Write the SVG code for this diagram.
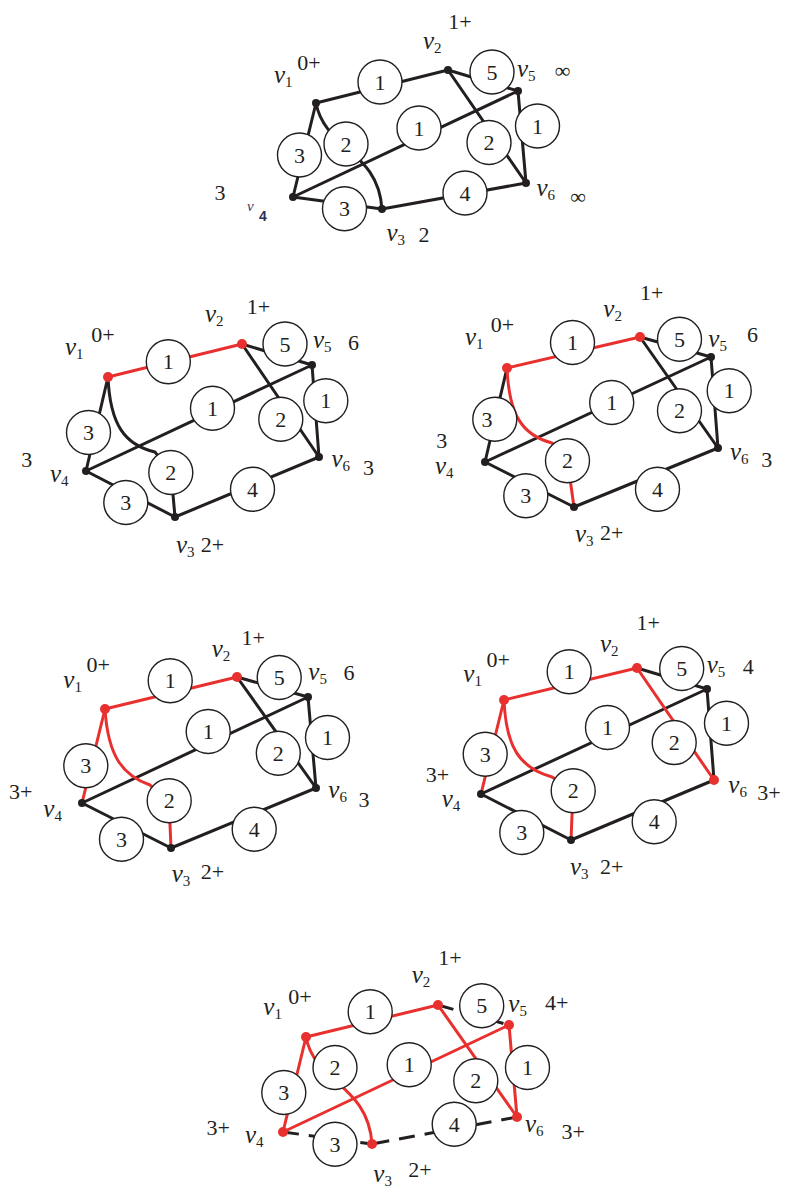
<svg xmlns="http://www.w3.org/2000/svg" width="786" height="1189" viewBox="0 0 786 1189">
<style>
.k{stroke:#231f20;stroke-width:3;fill:none;stroke-linecap:round}
.r{stroke:#e8312f;stroke-width:3;fill:none;stroke-linecap:round}
.d{stroke-dasharray:16 10;stroke-linecap:butt}
.w circle{fill:#fff;stroke:#231f20;stroke-width:1.4}
.w text{font-family:'Liberation Serif',serif;font-size:22px;text-anchor:middle;fill:#231f20}
.dk{fill:#231f20}
.dr{fill:#e8312f}
.v{font-family:'Liberation Serif',serif;font-style:italic;font-size:25px;fill:#231f20}
.v tspan{font-style:normal;font-size:15px}
.l{font-family:'Liberation Serif',serif;font-size:22px;text-anchor:middle;fill:#231f20}
</style>
<rect width="786" height="1189" fill="#fff"/>

<!-- ============ Diagram 1 ============ -->
<g id="d1">
<g id="d1-connectors">
<path class="k" d="M316,103L448,70"/>
<path class="k" d="M448,70L518,91"/>
<path class="k" d="M448,70L526,183"/>
<path class="k" d="M518,91L526,183"/>
<path class="k" d="M518,91L293,197"/>
<path class="k" d="M526,183L382,209"/>
<path class="k" d="M293,197L382,209"/>
<path class="k" d="M316,103L293,197"/>
<path class="k" d="M316,103C325,150 378,150 382,209"/>
</g>
<g id="d1-w1a" class="w"><circle cx="380" cy="82" r="22"/><text x="380" y="89.5">1</text></g>
<g id="d1-w5" class="w"><circle cx="492" cy="72" r="22"/><text x="492" y="79.5">5</text></g>
<g id="d1-w1b" class="w"><circle cx="419" cy="128" r="22"/><text x="419" y="135.5">1</text></g>
<g id="d1-w1c" class="w"><circle cx="537.5" cy="126" r="22"/><text x="537.5" y="133.5">1</text></g>
<g id="d1-w2a" class="w"><circle cx="489" cy="142.5" r="22"/><text x="489" y="150">2</text></g>
<g id="d1-w3a" class="w"><circle cx="299.5" cy="155" r="22"/><text x="299.5" y="162.5">3</text></g>
<g id="d1-w2b" class="w"><circle cx="346" cy="144" r="22"/><text x="346" y="151.5">2</text></g>
<g id="d1-w3b" class="w"><circle cx="344.5" cy="208.7" r="22"/><text x="344.5" y="216.2">3</text></g>
<g id="d1-w4" class="w"><circle cx="465" cy="193" r="22"/><text x="465" y="200.5">4</text></g>
<g id="d1-v1"><circle class="dk" cx="316" cy="103" r="4"/><text class="v" x="274" y="83">v<tspan dy="4">1</tspan></text><text class="l" x="309" y="70">0+</text></g>
<g id="d1-v2"><circle class="dk" cx="448" cy="70" r="4"/><text class="v" x="423" y="49">v<tspan dy="4">2</tspan></text><text class="l" x="460" y="29">1+</text></g>
<g id="d1-v5"><circle class="dk" cx="518" cy="91" r="4"/><text class="v" x="517" y="77">v<tspan dy="4">5</tspan></text><text class="l" x="562.5" y="78">∞</text></g>
<g id="d1-v6"><circle class="dk" cx="526" cy="183" r="4"/><text class="v" x="536.5" y="196">v<tspan dy="4">6</tspan></text><text class="l" x="578" y="204">∞</text></g>
<g id="d1-v3"><circle class="dk" cx="382" cy="209" r="4"/><text class="v" x="386.5" y="241">v<tspan dy="4">3</tspan></text><text class="l" x="424" y="241.5">2</text></g>
<g id="d1-v4"><circle class="dk" cx="293" cy="197" r="4"/><text class="l" x="220" y="200">3</text><text x="247" y="211" font-family="'Liberation Serif',serif" font-style="italic" font-size="15" fill="#3a3566">v</text><text x="259" y="221" font-family="'Liberation Sans',sans-serif" font-weight="bold" font-size="14" fill="#2a2f55">4</text></g>
</g>

<!-- ============ Diagram 2 ============ -->
<g id="d2">
<g id="d2-connectors">
<path class="k" d="M242,344L312,365"/>
<path class="k" d="M242,344L319,457"/>
<path class="k" d="M312,365L319,457"/>
<path class="k" d="M312,365L86,471"/>
<path class="k" d="M319,457L175,517"/>
<path class="k" d="M86,471L175,517"/>
<path class="k" d="M108,377L86,471"/>
<path class="k" d="M108,377C110,425 125,445 155,452L171,472L175,517"/>
<path class="r" d="M108,377L242,344"/>
</g>
<g id="d2-w1a" class="w"><circle cx="168.3" cy="361.7" r="22"/><text x="168.3" y="369.2">1</text></g>
<g id="d2-w5" class="w"><circle cx="285" cy="344" r="22"/><text x="285" y="351.5">5</text></g>
<g id="d2-w1b" class="w"><circle cx="212.5" cy="408.3" r="22"/><text x="212.5" y="415.8">1</text></g>
<g id="d2-w1c" class="w"><circle cx="325.8" cy="400.8" r="22"/><text x="325.8" y="408.3">1</text></g>
<g id="d2-w2a" class="w"><circle cx="280.8" cy="419.2" r="22"/><text x="280.8" y="426.7">2</text></g>
<g id="d2-w3a" class="w"><circle cx="88.5" cy="432.5" r="22"/><text x="88.5" y="440">3</text></g>
<g id="d2-w2b" class="w"><circle cx="170.8" cy="472.5" r="22"/><text x="170.8" y="480">2</text></g>
<g id="d2-w3b" class="w"><circle cx="125.8" cy="502.5" r="22"/><text x="125.8" y="510">3</text></g>
<g id="d2-w4" class="w"><circle cx="252.5" cy="489.2" r="22"/><text x="252.5" y="496.7">4</text></g>
<g id="d2-v1"><circle class="dr" cx="108" cy="377" r="5"/><text class="v" x="65" y="355">v<tspan dy="4">1</tspan></text><text class="l" x="103" y="342">0+</text></g>
<g id="d2-v2"><circle class="dr" cx="242" cy="344" r="5"/><text class="v" x="205" y="321.5">v<tspan dy="4">2</tspan></text><text class="l" x="258.5" y="313.5">1+</text></g>
<g id="d2-v5"><circle class="dk" cx="312" cy="365" r="4"/><text class="v" x="313" y="348">v<tspan dy="4">5</tspan></text><text class="l" x="353.5" y="350">6</text></g>
<g id="d2-v6"><circle class="dk" cx="319" cy="457" r="4"/><text class="v" x="331.5" y="466.5">v<tspan dy="4">6</tspan></text><text class="l" x="368.5" y="475">3</text></g>
<g id="d2-v3"><circle class="dk" cx="175" cy="517" r="4"/><text class="v" x="176" y="553">v<tspan dy="4">3</tspan></text><text class="l" x="212.5" y="552">2+</text></g>
<g id="d2-v4"><circle class="dk" cx="86" cy="471" r="4"/><text class="v" x="50" y="481.5">v<tspan dy="4">4</tspan></text><text class="l" x="26.7" y="467">3</text></g>
</g>

<!-- ============ Diagram 3 ============ -->
<g id="d3">
<g id="d3-connectors">
<path class="k" d="M640,337L711,357"/>
<path class="k" d="M640,337L718,448"/>
<path class="k" d="M711,357L718,448"/>
<path class="k" d="M711,357L485,462"/>
<path class="k" d="M718,448L574,507"/>
<path class="k" d="M485,462L574,507"/>
<path class="k" d="M507,368L485,462"/>
<path class="r" d="M507,368C509,415 522,435 552,443L567.5,461L574,507"/>
<path class="r" d="M507,368L640,337"/>
</g>
<g id="d3-w1a" class="w"><circle cx="572.5" cy="342.5" r="22"/><text x="572.5" y="350">1</text></g>
<g id="d3-w5" class="w"><circle cx="679.5" cy="339.2" r="22"/><text x="679.5" y="346.7">5</text></g>
<g id="d3-w1b" class="w"><circle cx="611.7" cy="402.5" r="22"/><text x="611.7" y="410">1</text></g>
<g id="d3-w1c" class="w"><circle cx="729.2" cy="390.8" r="22"/><text x="729.2" y="398.3">1</text></g>
<g id="d3-w2a" class="w"><circle cx="679.5" cy="410.8" r="22"/><text x="679.5" y="418.3">2</text></g>
<g id="d3-w3a" class="w"><circle cx="494.8" cy="419.2" r="22"/><text x="487" y="426.7">3</text></g>
<g id="d3-w2b" class="w"><circle cx="567.5" cy="460.8" r="22"/><text x="567.5" y="468.3">2</text></g>
<g id="d3-w3b" class="w"><circle cx="525.8" cy="495.8" r="22"/><text x="525.8" y="503.3">3</text></g>
<g id="d3-w4" class="w"><circle cx="657.5" cy="489.2" r="22"/><text x="657.5" y="496.7">4</text></g>
<g id="d3-v1"><circle class="dr" cx="507" cy="368" r="5"/><text class="v" x="465" y="345">v<tspan dy="4">1</tspan></text><text class="l" x="502.5" y="332">0+</text></g>
<g id="d3-v2"><circle class="dr" cx="640" cy="337" r="5"/><text class="v" x="603.3" y="316.5">v<tspan dy="4">2</tspan></text><text class="l" x="651.7" y="300">1+</text></g>
<g id="d3-v5"><circle class="dk" cx="711" cy="357" r="4"/><text class="v" x="708.3" y="346.5">v<tspan dy="4">5</tspan></text><text class="l" x="752.5" y="342">6</text></g>
<g id="d3-v6"><circle class="dk" cx="718" cy="448" r="4"/><text class="v" x="730" y="460">v<tspan dy="4">6</tspan></text><text class="l" x="766.7" y="467">3</text></g>
<g id="d3-v3"><circle class="dk" cx="574" cy="507" r="4"/><text class="v" x="575" y="541.5">v<tspan dy="4">3</tspan></text><text class="l" x="611.7" y="540">2+</text></g>
<g id="d3-v4"><circle class="dk" cx="485" cy="462" r="4"/><text class="v" x="435" y="474">v<tspan dy="4">4</tspan></text><text class="l" x="441.7" y="448">3</text></g>
</g>

<!-- ============ Diagram 4 ============ -->
<g id="d4">
<g id="d4-connectors">
<path class="k" d="M237,677L308,697"/>
<path class="k" d="M237,677L316,788"/>
<path class="k" d="M308,697L316,788"/>
<path class="k" d="M308,697L82,803"/>
<path class="k" d="M316,788L171,848"/>
<path class="k" d="M82,803L171,848"/>
<path class="r" d="M105,709L82,803"/>
<path class="r" d="M105,709C108,758 124,776 150,785L169,801L171,848"/>
<path class="r" d="M105,709L237,677"/>
</g>
<g id="d4-w1a" class="w"><circle cx="170.2" cy="680.8" r="22"/><text x="170.2" y="688.3">1</text></g>
<g id="d4-w5" class="w"><circle cx="279.2" cy="677.5" r="22"/><text x="279.2" y="685">5</text></g>
<g id="d4-w1b" class="w"><circle cx="208.2" cy="731.5" r="22"/><text x="208.2" y="739">1</text></g>
<g id="d4-w1c" class="w"><circle cx="327.5" cy="737.5" r="22"/><text x="327.5" y="745">1</text></g>
<g id="d4-w2a" class="w"><circle cx="278.3" cy="753.2" r="22"/><text x="278.3" y="760.7">2</text></g>
<g id="d4-w3a" class="w"><circle cx="85.8" cy="765.8" r="22"/><text x="85.8" y="773.3">3</text></g>
<g id="d4-w2b" class="w"><circle cx="169.2" cy="800.8" r="22"/><text x="169.2" y="808.3">2</text></g>
<g id="d4-w3b" class="w"><circle cx="121.5" cy="839.2" r="22"/><text x="121.5" y="846.7">3</text></g>
<g id="d4-w4" class="w"><circle cx="254.2" cy="829.2" r="22"/><text x="254.2" y="836.7">4</text></g>
<g id="d4-v1"><circle class="dr" cx="105" cy="709" r="5"/><text class="v" x="63.3" y="688.3">v<tspan dy="4">1</tspan></text><text class="l" x="98.3" y="672">0+</text></g>
<g id="d4-v2"><circle class="dr" cx="237" cy="677" r="5"/><text class="v" x="211.7" y="656.5">v<tspan dy="4">2</tspan></text><text class="l" x="253.3" y="645">1+</text></g>
<g id="d4-v5"><circle class="dk" cx="308" cy="697" r="4"/><text class="v" x="308.3" y="680">v<tspan dy="4">5</tspan></text><text class="l" x="349" y="680">6</text></g>
<g id="d4-v6"><circle class="dk" cx="316" cy="788" r="4"/><text class="v" x="328.3" y="798.3">v<tspan dy="4">6</tspan></text><text class="l" x="364" y="807">3</text></g>
<g id="d4-v3"><circle class="dk" cx="171" cy="848" r="4"/><text class="v" x="171.7" y="881.5">v<tspan dy="4">3</tspan></text><text class="l" x="212.5" y="878.5">2+</text></g>
<g id="d4-v4"><circle class="dk" cx="82" cy="803" r="4"/><text class="v" x="43.3" y="816.7">v<tspan dy="4">4</tspan></text><text class="l" x="20.8" y="798.5">3+</text></g>
</g>

<!-- ============ Diagram 5 ============ -->
<g id="d5">
<g id="d5-connectors">
<path class="k" d="M637,668L707,689"/>
<path class="k" d="M707,689L714,780"/>
<path class="k" d="M707,689L481,794"/>
<path class="k" d="M714,780L571,840"/>
<path class="k" d="M481,794L571,840"/>
<path class="r" d="M637,668L714,780"/>
<path class="r" d="M504,700L481,794"/>
<path class="r" d="M504,700C506,748 520,768 552,777L573,791L571,840"/>
<path class="r" d="M504,700L637,668"/>
</g>
<g id="d5-w1a" class="w"><circle cx="569.2" cy="671.7" r="22"/><text x="569.2" y="679.2">1</text></g>
<g id="d5-w5" class="w"><circle cx="681.7" cy="668.5" r="22"/><text x="681.7" y="676">5</text></g>
<g id="d5-w1b" class="w"><circle cx="607.5" cy="727.5" r="22"/><text x="607.5" y="735">1</text></g>
<g id="d5-w1c" class="w"><circle cx="726.5" cy="723.2" r="22"/><text x="726.5" y="730.7">1</text></g>
<g id="d5-w2a" class="w"><circle cx="674.2" cy="742.5" r="22"/><text x="674.2" y="750">2</text></g>
<g id="d5-w3a" class="w"><circle cx="485.2" cy="754.2" r="22"/><text x="485.2" y="761.7">3</text></g>
<g id="d5-w2b" class="w"><circle cx="573.2" cy="790.8" r="22"/><text x="573.2" y="798.3">2</text></g>
<g id="d5-w3b" class="w"><circle cx="521.8" cy="832.5" r="22"/><text x="521.8" y="840">3</text></g>
<g id="d5-w4" class="w"><circle cx="654.2" cy="821.8" r="22"/><text x="654.2" y="829.3">4</text></g>
<g id="d5-v1"><circle class="dr" cx="504" cy="700" r="5"/><text class="v" x="463.3" y="681.7">v<tspan dy="4">1</tspan></text><text class="l" x="498.3" y="667">0+</text></g>
<g id="d5-v2"><circle class="dr" cx="637" cy="668" r="5"/><text class="v" x="600" y="651.7">v<tspan dy="4">2</tspan></text><text class="l" x="648.3" y="630">1+</text></g>
<g id="d5-v5"><circle class="dk" cx="707" cy="689" r="4"/><text class="v" x="706.7" y="673.3">v<tspan dy="4">5</tspan></text><text class="l" x="748.3" y="673.5">4</text></g>
<g id="d5-v6"><circle class="dr" cx="714" cy="780" r="5"/><text class="v" x="728.3" y="793.3">v<tspan dy="4">6</tspan></text><text class="l" x="769" y="800">3+</text></g>
<g id="d5-v3"><circle class="dk" cx="571" cy="840" r="4"/><text class="v" x="570" y="875">v<tspan dy="4">3</tspan></text><text class="l" x="611.7" y="873.5">2+</text></g>
<g id="d5-v4"><circle class="dk" cx="481" cy="794" r="4"/><text class="v" x="441.7" y="806.7">v<tspan dy="4">4</tspan></text><text class="l" x="437.5" y="782">3+</text></g>
</g>

<!-- ============ Diagram 6 ============ -->
<g id="d6">
<g id="d6-connectors">
<path class="k d" d="M438,1005L509,1025"/>
<path class="k d" d="M283,1132L372,1144"/>
<path class="k d" d="M517,1117L372,1144"/>
<path class="r" d="M306,1037L438,1005"/>
<path class="r" d="M306,1037L283,1132"/>
<path class="r" d="M438,1005L517,1117"/>
<path class="r" d="M509,1025L517,1117"/>
<path class="r" d="M509,1025L283,1132"/>
<path class="r" d="M306,1037C315,1084 368,1084 372,1144"/>
</g>
<g id="d6-w1a" class="w"><circle cx="370.2" cy="1011.7" r="22"/><text x="370.2" y="1019.2">1</text></g>
<g id="d6-w5" class="w"><circle cx="481.7" cy="1005.8" r="22"/><text x="481.7" y="1013.3">5</text></g>
<g id="d6-w1b" class="w"><circle cx="409.2" cy="1064.7" r="22"/><text x="409.2" y="1072.2">1</text></g>
<g id="d6-w1c" class="w"><circle cx="527.5" cy="1067.5" r="22"/><text x="527.5" y="1075">1</text></g>
<g id="d6-w2a" class="w"><circle cx="475.8" cy="1080.8" r="22"/><text x="475.8" y="1088.3">2</text></g>
<g id="d6-w3a" class="w"><circle cx="283.8" cy="1092.5" r="22"/><text x="283.8" y="1100">3</text></g>
<g id="d6-w2b" class="w"><circle cx="335" cy="1067.5" r="22"/><text x="335" y="1075">2</text></g>
<g id="d6-w3b" class="w"><circle cx="335" cy="1144.2" r="22"/><text x="335" y="1151.7">3</text></g>
<g id="d6-w4" class="w"><circle cx="454.2" cy="1124.2" r="22"/><text x="454.2" y="1131.7">4</text></g>
<g id="d6-v1"><circle class="dr" cx="306" cy="1037" r="5"/><text class="v" x="263.3" y="1015">v<tspan dy="4">1</tspan></text><text class="l" x="300" y="1003.5">0+</text></g>
<g id="d6-v2"><circle class="dr" cx="438" cy="1005" r="5"/><text class="v" x="411.7" y="983.3">v<tspan dy="4">2</tspan></text><text class="l" x="450" y="965">1+</text></g>
<g id="d6-v5"><circle class="dr" cx="509" cy="1025" r="5"/><text class="v" x="508.3" y="1011.7">v<tspan dy="4">5</tspan></text><text class="l" x="556.7" y="1010">4+</text></g>
<g id="d6-v6"><circle class="dr" cx="517" cy="1117" r="5"/><text class="v" x="525" y="1131.7">v<tspan dy="4">6</tspan></text><text class="l" x="573.3" y="1138.5">3+</text></g>
<g id="d6-v3"><circle class="dr" cx="372" cy="1144" r="5"/><text class="v" x="373.3" y="1181.5">v<tspan dy="4">3</tspan></text><text class="l" x="420" y="1177">2+</text></g>
<g id="d6-v4"><circle class="dr" cx="283" cy="1132" r="5"/><text class="v" x="245" y="1143.3">v<tspan dy="4">4</tspan></text><text class="l" x="218.3" y="1135">3+</text></g>
</g>
</svg>
